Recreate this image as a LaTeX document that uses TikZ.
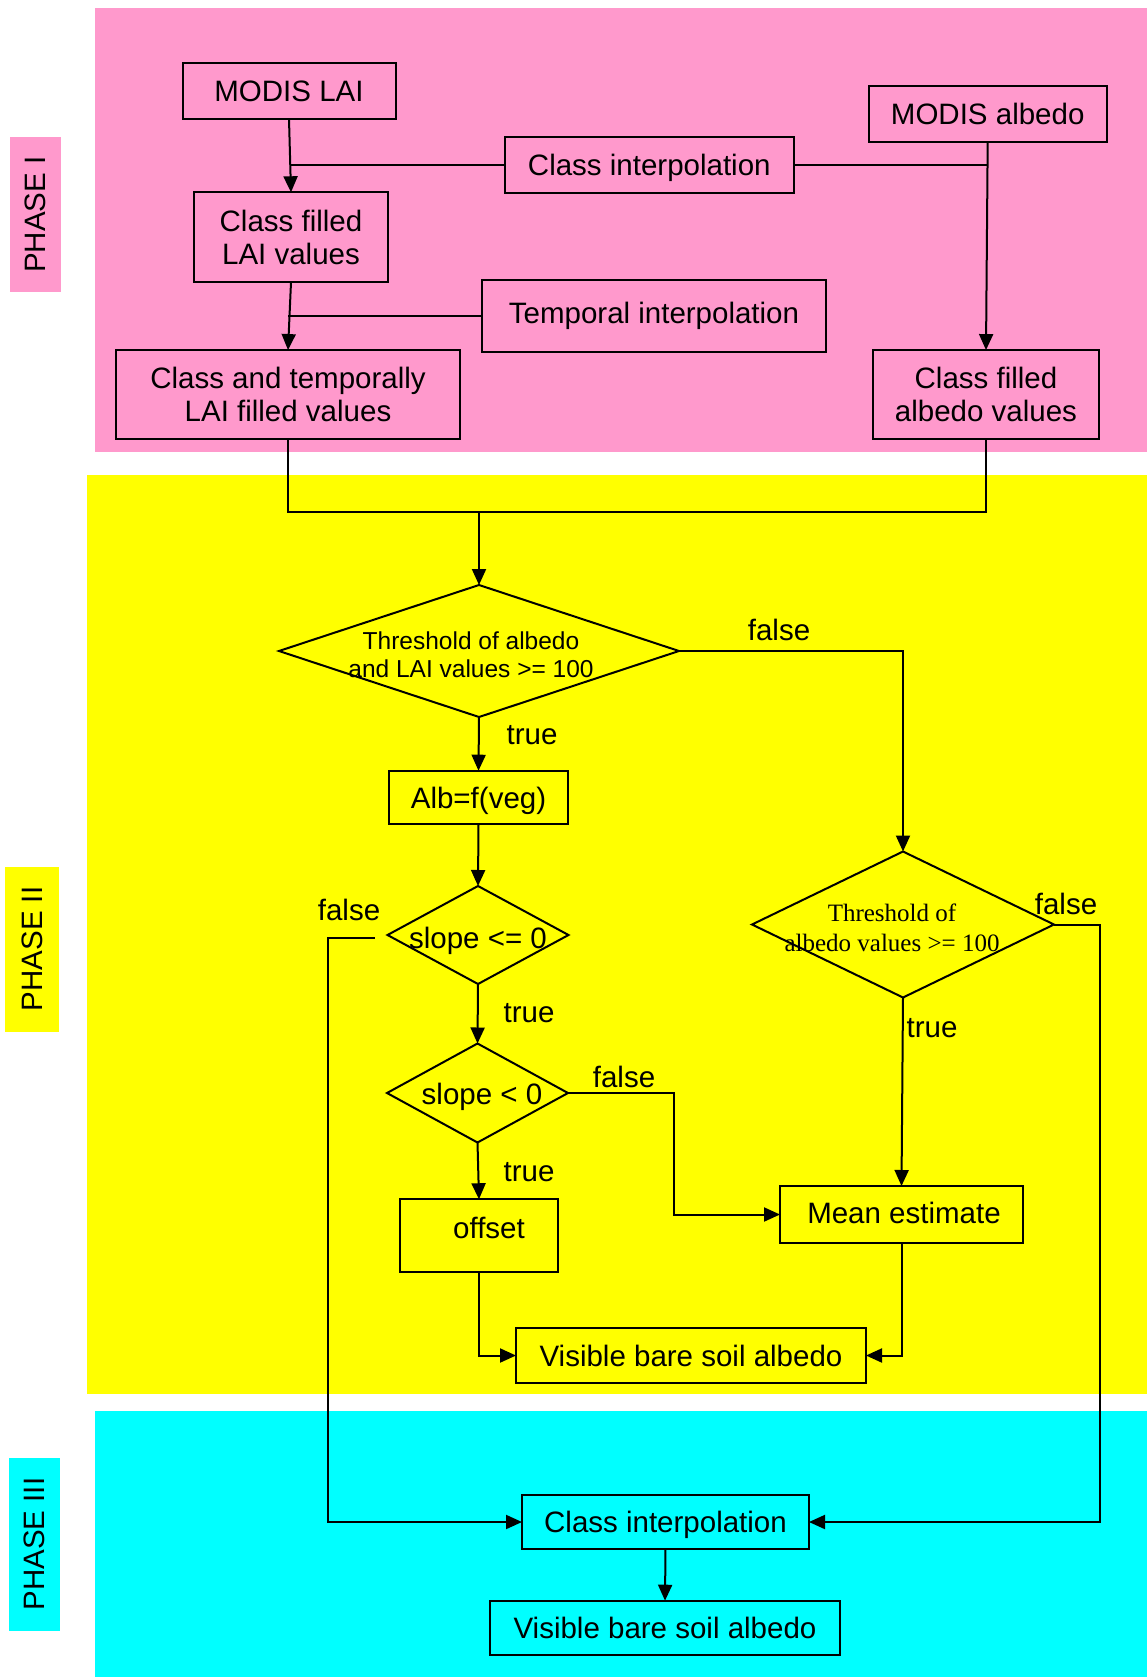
\documentclass[tikz,border=0pt]{standalone}
\usepackage{fontspec}
\setmainfont{Liberation Sans}
\newfontfamily\tnrfont{Liberation Serif}
\usetikzlibrary{arrows.meta,shapes.geometric}
\definecolor{pinkbg}{HTML}{FF99CC}
\definecolor{yelbg}{HTML}{FFFF00}
\definecolor{cyanbg}{HTML}{00FFFF}
\newcommand\mainf{\fontsize{29.5}{33.5}\selectfont}
\newcommand\diaf{\fontsize{24.5}{28}\selectfont}
\newcommand\serf{\tnrfont\fontsize{25}{30}\selectfont}
\begin{document}
\begin{tikzpicture}[x=1pt,y=-1pt,
  box/.style={draw,line width=2pt,inner sep=0pt,outer sep=0pt,align=center,font=\mainf},
  oneline/.style={text height=21pt,text depth=0pt},
  dia/.style={draw,diamond,line width=2pt,inner sep=0pt,outer sep=0pt},
  lab/.style={inner sep=0pt,align=center,font=\mainf},
  ln/.style={line width=2pt},
  arr/.style={line width=2pt,-{Triangle[length=16pt,width=14pt]}}]
\useasboundingbox (0,0) rectangle (1147,1677);
% backgrounds
\fill[pinkbg] (94.5,7.7) rectangle (1147,451.7);
\fill[yelbg] (87.3,474.5) rectangle (1147,1394);
\fill[cyanbg] (95.2,1410.7) rectangle (1147,1677);
\fill[pinkbg] (9.6,136.7) rectangle (60.5,292.3);
\fill[yelbg] (5.3,866.7) rectangle (58.7,1031.7);
\fill[cyanbg] (8.8,1458) rectangle (60,1630.7);
\node[lab,rotate=90] (ph1) at (35,214.5) {PHASE I};
\node[lab,rotate=90] (ph2) at (32,949) {PHASE II};
\node[lab,rotate=90] (ph3) at (34.4,1544) {PHASE III};
% phase I
\node[box,oneline,minimum width=213pt,minimum height=56pt] (lai) at (289,91) {MODIS LAI};
\node[box,minimum width=194pt,minimum height=90pt] (cfl) at (291,237.3) {Class filled\\LAI values};
\node[box,minimum width=344pt,minimum height=89.3pt] (ctl) at (288,394.7) {Class and temporally\\LAI filled values};
\node[box,oneline,minimum width=288.7pt,minimum height=55.4pt] (ci1) at (649.3,165) {Class interpolation};
\node[box,minimum width=344pt,minimum height=72pt] (ti) at (654,316) {Temporal interpolation};
\node[box,oneline,minimum width=238pt,minimum height=55.4pt] (alb) at (987.7,114) {MODIS albedo};
\node[box,minimum width=226pt,minimum height=89.3pt] (cfa) at (986,394.7) {Class filled\\albedo values};
\draw[arr] (lai.south) -- (cfl.north);
\draw[ln] (ci1.west) -- (ci1.west -| cfl.north);
\draw[arr] (cfl.south) -- (ctl.north);
\draw[ln] (ti.west) -- (ti.west -| ctl.north);
\draw[arr] (alb.south) -- (cfa.north);
\draw[ln] (ci1.east) -- (ci1.east -| alb.south);
% phase II
\coordinate (m) at (479,511.5);
\node[dia,minimum width=400pt,minimum height=132pt] (d1) at (479,651) {};
\node[lab,font=\diaf] (d1t) at (471,655) {Threshold of albedo\\and LAI values >= 100};
\node[box,oneline,minimum width=179pt,minimum height=53.6pt] (afv) at (478.5,797.5) {Alb=f(veg)};
\node[dia,minimum width=181pt,minimum height=98pt] (d2) at (478,935) {};
\node[lab] (d2t) at (478,941) {slope <= 0};
\node[dia,minimum width=181pt,minimum height=99pt] (d3) at (477.5,1093) {};
\node[lab] (d3t) at (482,1096.5) {slope < 0};
\node[box,minimum width=158.5pt,minimum height=72.5pt] (off) at (479,1235.5) {};
\node[lab] (offt) at (489,1228) {offset};
\node[box,minimum width=243pt,minimum height=57pt] (me) at (901.5,1214.5) {};
\node[lab] (met) at (904,1213) {Mean estimate};
\node[box,oneline,minimum width=350pt,minimum height=55pt] (vb2) at (691,1355.5) {Visible bare soil albedo};
\node[dia,minimum width=302pt,minimum height=146pt] (d4) at (903,924.5) {};
\node[lab,font=\serf] (d4t) at (892,928) {Threshold of\\albedo values >= 100};
\node[lab] (f1) at (779,630) {false};
\node[lab] (t1) at (532,735) {true};
\node[lab] (f2) at (349,910) {false};
\node[lab] (t2) at (529,1013) {true};
\node[lab] (f3) at (624,1077) {false};
\node[lab] (t3) at (529,1172) {true};
\node[lab] (f4) at (1066,904) {false};
\node[lab] (t4) at (932,1028) {true};
% phase III
\node[box,oneline,minimum width=287pt,minimum height=53.7pt] (ci3) at (665.5,1522) {Class interpolation};
\node[box,oneline,minimum width=350pt,minimum height=54.6pt] (vb3) at (665,1628) {Visible bare soil albedo};
% connectors
\draw[ln] (ctl.south) |- (m);
\draw[ln] (cfa.south) |- (m);
\draw[arr] (m) -- (d1.north);
\draw[arr] (d1.east) -| (d4.north);
\draw[arr] (d1.south) -- (afv.north);
\draw[arr] (afv.south) -- (d2.north);
\draw[arr] (d2.south) -- (d3.north);
\draw[arr] (d3.south) -- (off.north);
\coordinate (k3) at (673.5,1093);
\draw[arr] (d3.east) -- (k3) |- (me.west);
\draw[arr] (d4.south) -- (me.north);
\draw[arr] (off.south) |- (vb2.west);
\draw[arr] (me.south) |- (vb2.east);
\coordinate (f2s) at ([xshift=-12.7pt,yshift=-2.7pt]d2.west);
\draw[arr] (f2s) -- ++(-46.5,0) |- (ci3.west);
\draw[arr] (d4.east) -- ++(45.5,0) |- (ci3.east);
\draw[arr] (ci3.south) -- (vb3.north);
\end{tikzpicture}
\end{document}
